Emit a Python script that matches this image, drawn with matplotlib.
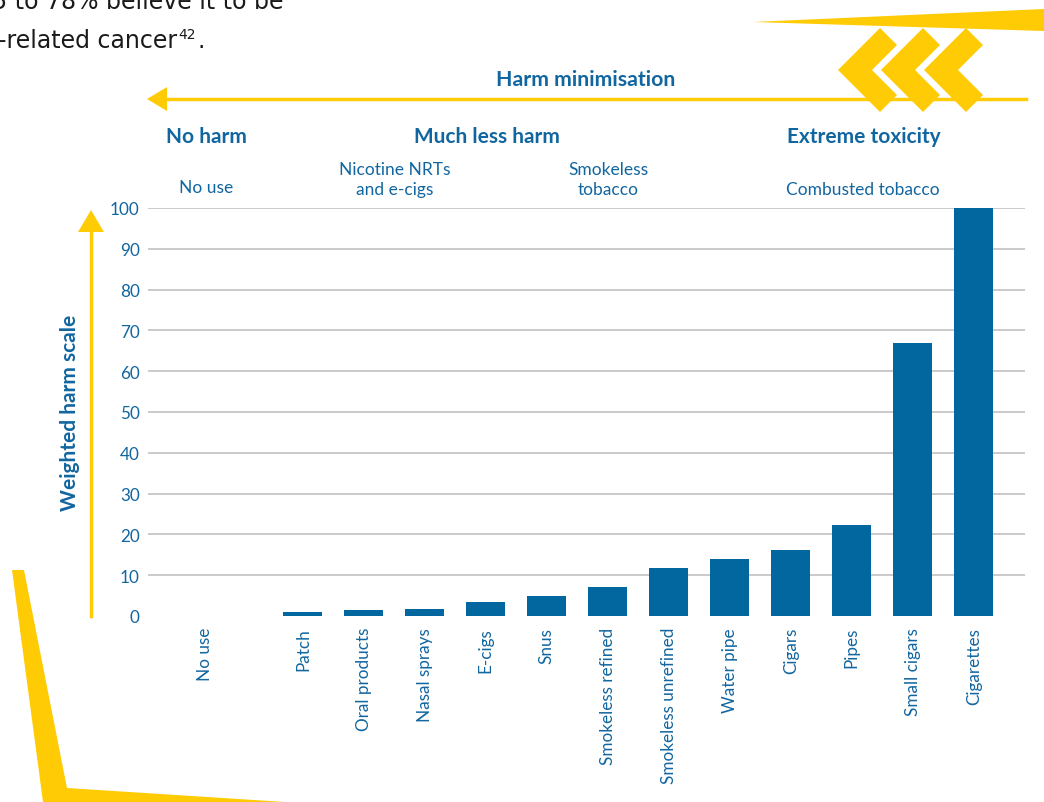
import numpy as np
import matplotlib.pyplot as plt
from matplotlib.patches import Polygon

plt.rcParams['font.family'] = ['Lato', 'DejaVu Sans']

categories = ['No use', 'Patch', 'Oral products', 'Nasal sprays', 'E-cigs', 'Snus',
              'Smokeless refined', 'Smokeless unrefined', 'Water pipe', 'Cigars',
              'Pipes', 'Small cigars', 'Cigarettes']
harm = [0, 1.0, 1.5, 1.8, 3.5, 4.9, 7.2, 11.8, 14.0, 16.2, 22.3, 67.0, 100.0]
yticks = [0, 10, 20, 30, 40, 50, 60, 70, 80, 90, 100]

BLUE = '#03679f'
TEXT = '#1266a0'
YELLOW = '#ffcb05'
W, H = 1044, 803

fig = plt.figure(figsize=(W / 100, H / 100), dpi=100)


def px(x, y):
    return x / W, 1 - y / H


# axes placed to match the gridline extent
x0, y0 = px(148, 617)
x1, y1 = px(1025, 209)
ax = fig.add_axes([x0, y0, x1 - x0, y1 - y0])

pos = np.arange(len(categories), dtype=float) - 1
pos[0] = -1.6
ax.bar(pos, harm, width=0.64, color=BLUE, zorder=3)
ax.set_xlim(-2.54, 11.84)
ax.set_ylim(0, 100)
ax.set_yticks(yticks)
ax.set_xticks(pos)
ax.set_xticklabels(categories, rotation=90, va='top', ha='center')
ax.tick_params(axis='both', length=0, labelsize=12.3, labelcolor=TEXT)
ax.tick_params(axis='y', pad=6)
ax.tick_params(axis='x', pad=8)
for s in ax.spines.values():
    s.set_visible(False)
for t in yticks[1:]:
    ax.axhline(t, color='#c6c6c6', lw=1.3, zorder=1)

# headings
fig.text(*px(586, 80), 'Harm minimisation', ha='center', va='center',
         fontsize=15.3, fontweight='bold', color=TEXT)
for x, s in [(206, 'No harm'), (487, 'Much less harm'), (864, 'Extreme toxicity')]:
    fig.text(*px(x, 137), s, ha='center', va='center', fontsize=15,
             fontweight='bold', color=TEXT)
for x, y, s in [(206, 188, 'No use'), (395, 180, 'Nicotine NRTs\nand e-cigs'),
                (608, 180, 'Smokeless\ntobacco'), (863, 190, 'Combusted tobacco')]:
    fig.text(*px(x, y), s, ha='center', va='center', fontsize=12.5,
             color=TEXT, linespacing=1.35)
fig.text(*px(70, 413), 'Weighted harm scale', ha='center', va='center',
         rotation=90, fontsize=15, fontweight='bold', color=TEXT)

# top-left cut text
fig.text(*px(-8, 9), '5 to 78% believe it to be', ha='left', va='baseline',
         fontsize=17, color='#1a1a1a', family='DejaVu Sans')
fig.text(*px(-2, 48), '-related cancer', ha='left', va='baseline',
         fontsize=17, color='#1a1a1a', family='DejaVu Sans')
fig.text(*px(178, 39), '42', ha='left', va='baseline',
         fontsize=10, color='#1a1a1a', family='DejaVu Sans')
fig.text(*px(197, 48), '.', ha='left', va='baseline',
         fontsize=17, color='#1a1a1a', family='DejaVu Sans')


def poly(points, **kw):
    fig.patches.append(Polygon([px(x, y) for x, y in points], closed=True,
                               transform=fig.transFigure, figure=fig, **kw))


# harm minimisation arrow
fig.add_artist(plt.Line2D([px(160, 0)[0], px(1026, 0)[0]], [px(0, 100)[1]] * 2,
                          color=YELLOW, lw=2.5, transform=fig.transFigure))
poly([(147, 100), (167, 88), (167, 112)], color=YELLOW, lw=0)

# y-axis arrow
fig.add_artist(plt.Line2D([px(91, 0)[0]] * 2, [px(0, 617)[1], px(0, 230)[1]],
                          color=YELLOW, lw=2.5, transform=fig.transFigure))
poly([(91, 211), (78, 233), (104, 233)], color=YELLOW, lw=0)

# decorative yellow shapes
poly([(753, 23), (1044, 10), (1044, 32)], color=YELLOW, lw=0)
for dx in (0, 43, 86):
    poly([(838 + dx, 71), (880 + dx, 29), (897 + dx, 46), (872 + dx, 71),
          (897 + dx, 96), (880 + dx, 113)], color=YELLOW, lw=0)
poly([(12, 571), (24, 571), (67, 789), (285, 803), (43, 803)], color=YELLOW, lw=0)

fig.savefig('out.png', dpi=100)
